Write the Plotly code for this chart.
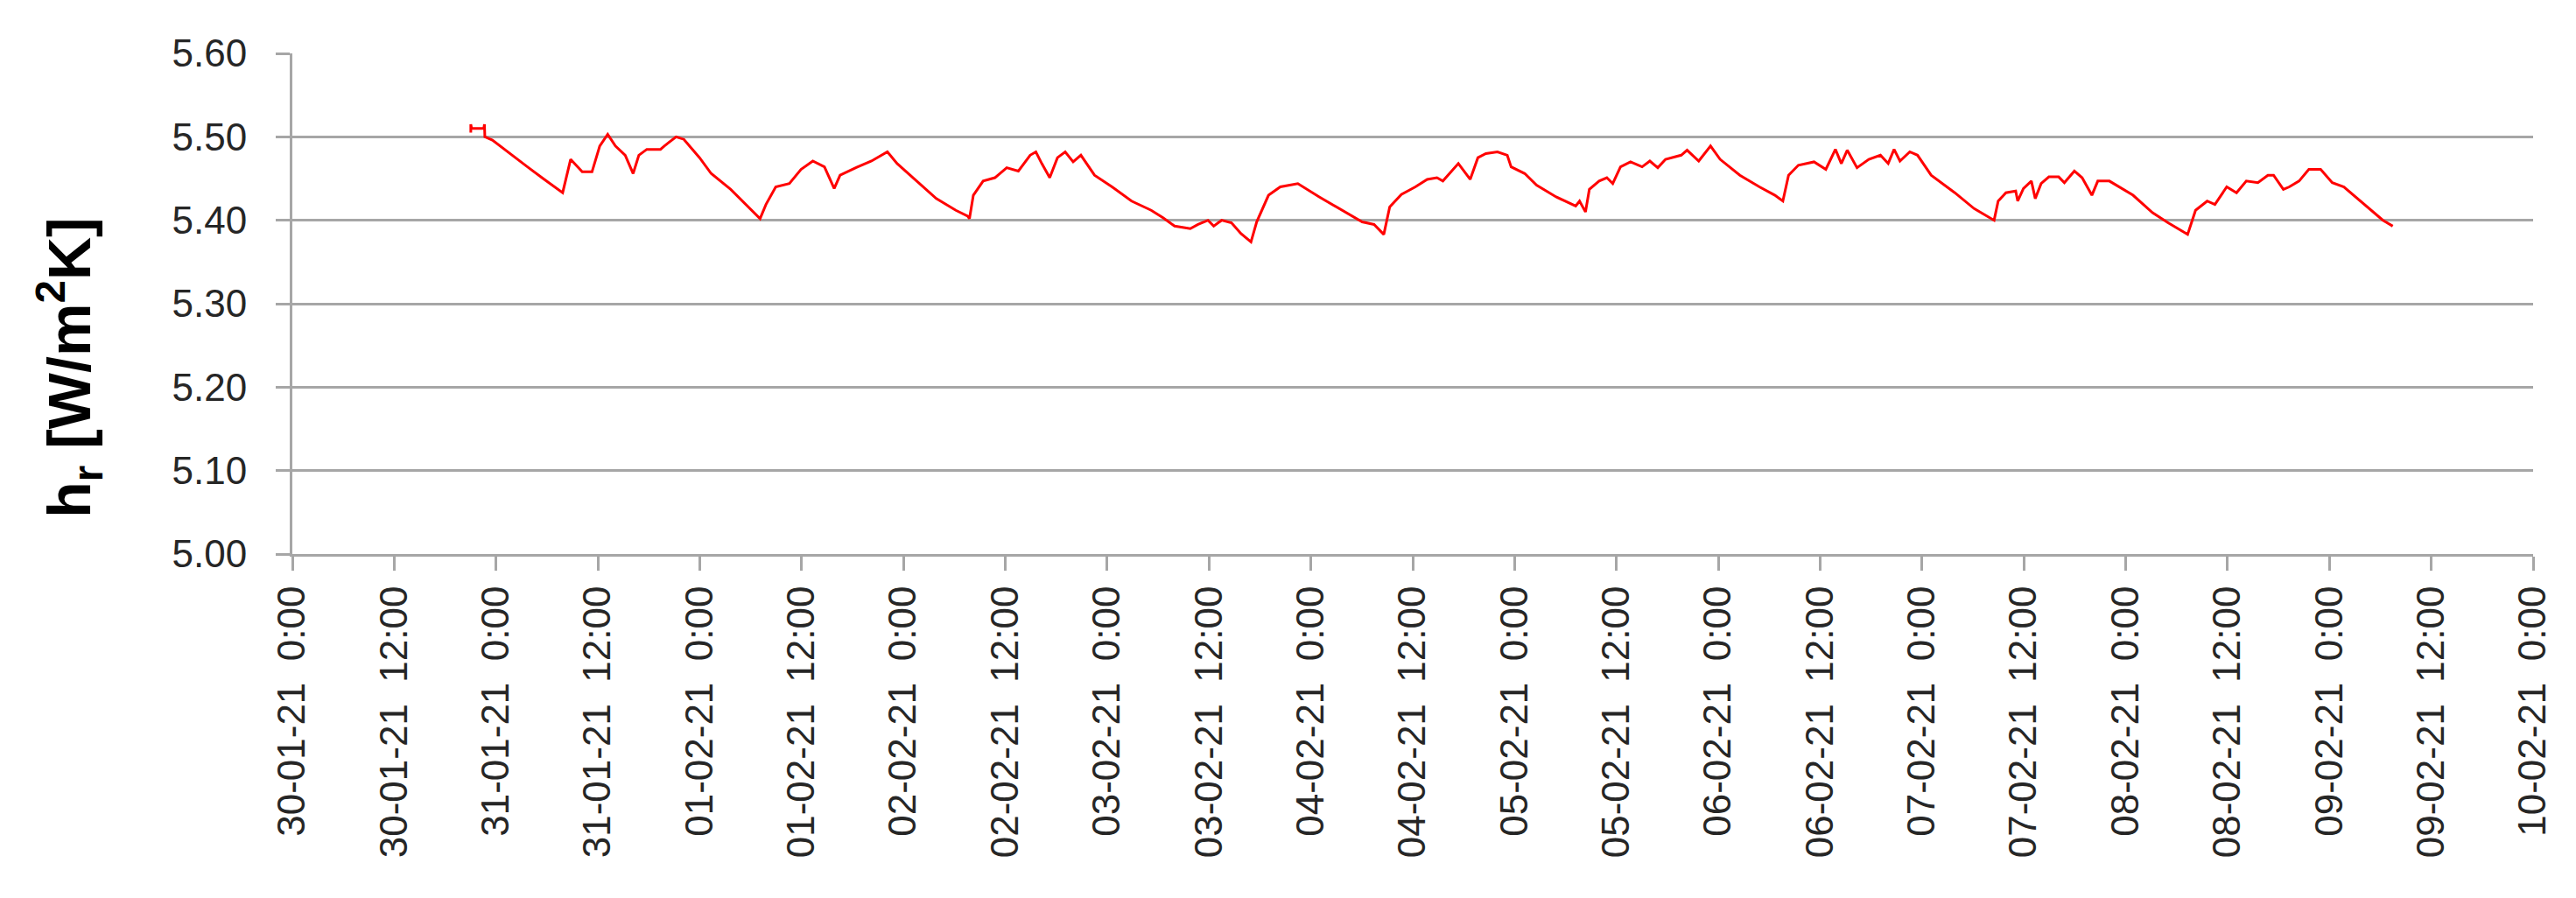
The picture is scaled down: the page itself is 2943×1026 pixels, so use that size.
import pandas as pd
import plotly.graph_objects as go

# ---- data ----
start_time = "2021-01-30 00:00"
days_since_start = [
    0.876, 0.876, 0.880, 0.940, 0.943, 0.945, 0.982, 1.040, 1.154, 1.231, 1.327,
    1.366, 1.423, 1.471, 1.509, 1.548, 1.586, 1.634, 1.673, 1.701, 1.740, 1.807,
    1.826, 1.884, 1.922, 1.999, 2.056, 2.152, 2.286, 2.296, 2.325, 2.373, 2.440,
    2.497, 2.555, 2.612, 2.660, 2.689, 2.766, 2.843, 2.921, 2.969, 3.065, 3.161,
    3.257, 3.315, 3.324, 3.343, 3.391, 3.449, 3.507, 3.564, 3.622, 3.650, 3.679,
    3.718, 3.756, 3.794, 3.833, 3.871, 3.938, 4.024, 4.120, 4.216, 4.274, 4.331,
    4.408, 4.446, 4.495, 4.523, 4.562, 4.610, 4.657, 4.706, 4.734, 4.792, 4.850,
    4.936, 5.041, 5.156, 5.252, 5.310, 5.358, 5.387, 5.444, 5.513, 5.571, 5.619,
    5.648, 5.724, 5.782, 5.820, 5.859, 5.916, 5.964, 5.983, 6.050, 6.108, 6.204,
    6.300, 6.319, 6.348, 6.367, 6.415, 6.453, 6.482, 6.520, 6.569, 6.626, 6.664,
    6.703, 6.741, 6.818, 6.847, 6.904, 6.962, 7.009, 7.106, 7.202, 7.278, 7.317,
    7.345, 7.393, 7.470, 7.528, 7.575, 7.604, 7.633, 7.681, 7.739, 7.796, 7.834,
    7.863, 7.892, 7.940, 7.978, 8.045, 8.161, 8.256, 8.354, 8.374, 8.412, 8.460,
    8.470, 8.498, 8.537, 8.556, 8.585, 8.623, 8.671, 8.699, 8.748, 8.786, 8.834,
    8.863, 8.920, 9.036, 9.132, 9.208, 9.304, 9.343, 9.400, 9.438, 9.496, 9.544,
    9.592, 9.649, 9.698, 9.726, 9.774, 9.803, 9.851, 9.899, 9.957, 10.014, 10.071,
    10.187, 10.263, 10.311,
]
hr_values = [
    5.505, 5.515, 5.510, 5.510, 5.515, 5.500, 5.496, 5.485, 5.464, 5.450, 5.433,
    5.473, 5.458, 5.458, 5.489, 5.503, 5.489, 5.478, 5.456, 5.478, 5.485, 5.485,
    5.489, 5.500, 5.497, 5.475, 5.456, 5.437, 5.405, 5.402, 5.419, 5.440, 5.444,
    5.461, 5.471, 5.464, 5.438, 5.454, 5.463, 5.471, 5.482, 5.468, 5.447, 5.426,
    5.412, 5.405, 5.402, 5.430, 5.447, 5.451, 5.463, 5.459, 5.478, 5.482, 5.468,
    5.451, 5.475, 5.482, 5.470, 5.478, 5.454, 5.440, 5.423, 5.412, 5.403, 5.393,
    5.390, 5.395, 5.400, 5.393, 5.400, 5.397, 5.384, 5.374, 5.398, 5.430, 5.440,
    5.444, 5.428, 5.412, 5.398, 5.395, 5.383, 5.416, 5.431, 5.440, 5.449, 5.451,
    5.447, 5.468, 5.449, 5.475, 5.480, 5.482, 5.478, 5.464, 5.456, 5.442, 5.428,
    5.417, 5.423, 5.410, 5.437, 5.447, 5.451, 5.444, 5.464, 5.470, 5.464, 5.471,
    5.463, 5.473, 5.478, 5.484, 5.471, 5.489, 5.473, 5.454, 5.440, 5.430, 5.423,
    5.454, 5.466, 5.470, 5.461, 5.485, 5.468, 5.484, 5.463, 5.473, 5.478, 5.468,
    5.485, 5.471, 5.482, 5.478, 5.454, 5.433, 5.414, 5.400, 5.423, 5.433, 5.435,
    5.423, 5.438, 5.447, 5.426, 5.444, 5.452, 5.452, 5.445, 5.459, 5.451, 5.430,
    5.447, 5.447, 5.430, 5.409, 5.397, 5.383, 5.412, 5.423, 5.419, 5.440, 5.433,
    5.447, 5.445, 5.454, 5.454, 5.437, 5.440, 5.447, 5.461, 5.461, 5.445, 5.440,
    5.416, 5.400, 5.393,
]

tick_times = [
    "2021-01-30 00:00", "2021-01-30 12:00", "2021-01-31 00:00", "2021-01-31 12:00",
    "2021-02-01 00:00", "2021-02-01 12:00", "2021-02-02 00:00", "2021-02-02 12:00",
    "2021-02-03 00:00", "2021-02-03 12:00", "2021-02-04 00:00", "2021-02-04 12:00",
    "2021-02-05 00:00", "2021-02-05 12:00", "2021-02-06 00:00", "2021-02-06 12:00",
    "2021-02-07 00:00", "2021-02-07 12:00", "2021-02-08 00:00", "2021-02-08 12:00",
    "2021-02-09 00:00", "2021-02-09 12:00", "2021-02-10 00:00",
]
S = "\u00a0\u00a0"
tick_labels = [
    "30-01-21" + S + "0:00", "30-01-21" + S + "12:00", "31-01-21" + S + "0:00", "31-01-21" + S + "12:00",
    "01-02-21" + S + "0:00", "01-02-21" + S + "12:00", "02-02-21" + S + "0:00", "02-02-21" + S + "12:00",
    "03-02-21" + S + "0:00", "03-02-21" + S + "12:00", "04-02-21" + S + "0:00", "04-02-21" + S + "12:00",
    "05-02-21" + S + "0:00", "05-02-21" + S + "12:00", "06-02-21" + S + "0:00", "06-02-21" + S + "12:00",
    "07-02-21" + S + "0:00", "07-02-21" + S + "12:00", "08-02-21" + S + "0:00", "08-02-21" + S + "12:00",
    "09-02-21" + S + "0:00", "09-02-21" + S + "12:00", "10-02-21" + S + "0:00",
]
y_ticks = [5.00, 5.10, 5.20, 5.30, 5.40, 5.50, 5.60]
y_title = "<b>h<sub>r</sub> [W/m<sup>2</sup>K]</b>"

# ---- figure ----
times = pd.Timestamp(start_time) + pd.to_timedelta(days_since_start, unit="D")

fig = go.Figure()
fig.add_trace(go.Scatter(
    x=times, y=hr_values, mode="lines",
    line=dict(color="#ff0000", width=3),
    showlegend=False,
))

FONT = "Arial, Liberation Sans, sans-serif"
GRID = "#a6a6a6"

fig.update_layout(
    width=2943, height=1026,
    margin=dict(l=326, r=57, t=53, b=401, autoexpand=False),
    paper_bgcolor="white", plot_bgcolor="white",
    font=dict(family=FONT, color="#262626"),
)
fig.update_xaxes(
    type="date",
    range=[tick_times[0], tick_times[-1]],
    tickmode="array", tickvals=tick_times, ticktext=tick_labels,
    tickangle=-90,
    tickfont=dict(family=FONT, size=44, color="#262626"),
    ticks="outside", ticklen=16, tickwidth=3, tickcolor=GRID,
    showline=True, linecolor=GRID, linewidth=3,
    showgrid=False, zeroline=False,
    ticklabelstandoff=0,
    automargin=False,
)
fig.update_yaxes(
    range=[5.0, 5.6],
    tickmode="array", tickvals=y_ticks,
    tickformat=".2f",
    tickfont=dict(family=FONT, size=44, color="#262626"),
    ticks="outside", ticklen=16, tickwidth=3, tickcolor=GRID,
    showline=True, linecolor=GRID, linewidth=3,
    showgrid=True, gridcolor=GRID, gridwidth=3,
    zeroline=False,
    ticklabelstandoff=24,
    automargin=False,
)
fig.add_annotation(
    text=y_title, textangle=-90,
    xref="paper", yref="paper", x=-0.0994, y=0.372,
    xanchor="center", yanchor="middle", showarrow=False,
    font=dict(family=FONT, size=68, color="#000000"),
)

fig.write_html("out.html")
